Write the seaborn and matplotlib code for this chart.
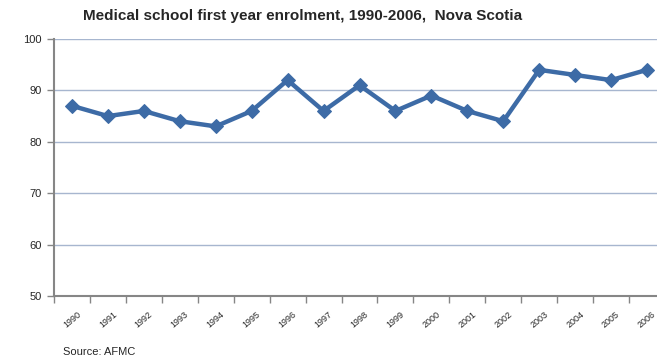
import matplotlib
matplotlib.use("Agg")
import matplotlib.pyplot as plt
import seaborn as sns
import numpy as np
import pandas as pd

# datos
years = ["1990", "1991", "1992", "1993", "1994", "1995", "1996", "1997", "1998",
         "1999", "2000", "2001", "2002", "2003", "2004", "2005", "2006"]
enrolment = [87, 85, 86, 84, 83, 86, 92, 86, 91, 86, 89, 86, 84, 94, 93, 92, 94]
y_ticks = [50, 60, 70, 80, 90, 100]

df = pd.DataFrame({"pos": np.arange(len(years)), "enrolment": enrolment})

sns.set_style("white")
plt.rcParams["font.family"] = ["Liberation Sans", "DejaVu Sans"]

fig = plt.figure(figsize=(6.57, 3.63), dpi=100)
ax = fig.add_axes([54 / 657, 1 - 296 / 363, 611 / 657, 257 / 363])

line_col = "#3D6BA6"
sns.lineplot(x="pos", y="enrolment", data=df, ax=ax, color=line_col,
             linewidth=3.2, marker="D", markersize=7, markeredgecolor=line_col)

ax.set_xlim(-0.5, len(years) - 0.5)
ax.set_ylim(50, 100)
ax.set_yticks(y_ticks)
ax.set_yticklabels([str(v) for v in y_ticks], fontsize=8)
ax.yaxis.grid(True, color="#A7B6CF", linewidth=1)
ax.set_axisbelow(True)

# ticks de categoria entre etiquetas
ax.set_xticks(np.arange(len(years) + 1) - 0.5)
ax.set_xticklabels([])
ax.set_xticks(np.arange(len(years)), minor=True)
ax.set_xticklabels(years, minor=True, rotation=40, fontsize=6.5, ha="center")
ax.tick_params(axis="x", which="major", bottom=True, direction="out", length=5,
               color="#868686", width=1)
ax.tick_params(axis="x", which="minor", bottom=True, length=0, pad=10)
ax.tick_params(axis="y", left=True, direction="out", length=5, color="#868686", width=1, pad=4)

for s in ["top", "right"]:
    ax.spines[s].set_visible(False)
for s in ["left", "bottom"]:
    ax.spines[s].set_color("#868686")
    ax.spines[s].set_linewidth(1.5)

ax.set_xlabel("")
ax.set_ylabel("")

fig.text(303 / 657, 1 - 16 / 363, "Medical school first year enrolment, 1990-2006,  Nova Scotia",
         ha="center", va="center", fontsize=11, fontweight="bold")
fig.text(63 / 657, 1 - 352 / 363, "Source: AFMC", ha="left", va="center", fontsize=8)

plt.savefig("out.png", dpi=100)
